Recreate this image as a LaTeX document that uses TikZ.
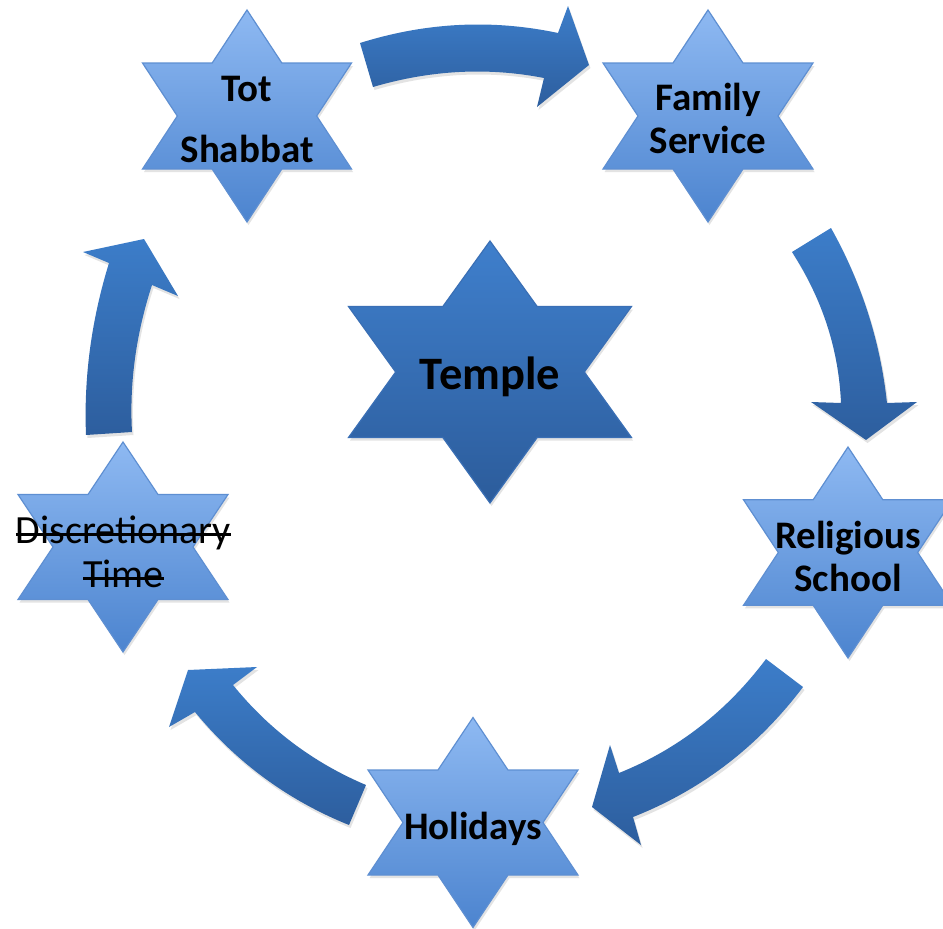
\documentclass[tikz,border=0pt]{standalone}
\usepackage{fontspec}
\setmainfont{Carlito}
\usetikzlibrary{shadows}
\definecolor{starTop}{HTML}{8EB9F2}
\definecolor{starBot}{HTML}{4C84CF}
\definecolor{starEdge}{HTML}{5E8FD2}
\definecolor{bigTop}{HTML}{3F7FCC}
\definecolor{bigBot}{HTML}{2C5C9B}
\definecolor{bigEdge}{HTML}{3A6FB5}
\definecolor{arrTop}{HTML}{3C7DC9}
\definecolor{arrBot}{HTML}{2D5E9E}
\newcommand\strk[1]{\setbox0=\hbox{#1}\rlap{\rule[0.2em]{\wd0}{2.6pt}}\box0}
\newcommand\hexstar[5]{%
 \path[#1] (#2,{#3-#5}) -- ({#2+#4/3},{#3-#5/2}) -- ({#2+#4},{#3-#5/2}) -- ({#2+2*#4/3},#3) -- ({#2+#4},{#3+#5/2}) -- ({#2+#4/3},{#3+#5/2}) -- (#2,{#3+#5}) -- ({#2-#4/3},{#3+#5/2}) -- ({#2-#4},{#3+#5/2}) -- ({#2-2*#4/3},#3) -- ({#2-#4},{#3-#5/2}) -- ({#2-#4/3},{#3-#5/2}) -- cycle;}
\tikzset{
 softshadow/.style={drop shadow={opacity=0.22, shadow xshift=1.5pt, shadow yshift=-3pt}},
 smallstar/.style={softshadow, top color=starTop, bottom color=starBot, draw=starEdge, line width=1.2pt},
 bigstar/.style={softshadow, top color=bigTop, bottom color=bigBot, draw=bigEdge, line width=1.2pt},
 cyclearrow/.style={softshadow, top color=arrTop, bottom color=arrBot, draw=none},
 lbl/.style={font=\bfseries\fontsize{39}{43}\selectfont, align=center, inner sep=0pt, text=black}
}
\begin{document}
\begin{tikzpicture}[x=1pt,y=-1pt]
\useasboundingbox (0,0) rectangle (943,929);
\fill[white] (0,0) rectangle (943,929);
% arrows
\path[cyclearrow] (360,43) .. controls (426,22.3) and (492,19) .. (558,33) -- (568,6) -- (589,65) -- (537,107) -- (544,78) .. controls (487.7,67) and (430.7,70) .. (373,87) -- cycle;
\path[cyclearrow] (792,252) -- (831,228) .. controls (861.7,283) and (880.3,341.3) .. (887,403) -- (917,402) -- (866,440) -- (811,402) -- (841,403) .. controls (838.7,349.3) and (822.3,299) .. (792,252) -- cycle;
\path[cyclearrow] (766,659) -- (803,687) .. controls (757.8,746.9) and (701.1,790.2) .. (633,817) -- (641,845) -- (592,807) -- (610,745) -- (619,773) .. controls (677.7,749.4) and (726.7,711.4) .. (766,659) -- cycle;
\path[cyclearrow] (366,785) -- (349,825) .. controls (287.9,800.3) and (236.6,762.6) .. (195,712) -- (169,727) -- (188,670) -- (257,667) -- (233,685) .. controls (268.7,729.1) and (313,762.5) .. (366,785) -- cycle;
\path[cyclearrow] (86,435) .. controls (83.7,377.7) and (91.3,320.3) .. (109,263) -- (83,252) -- (144,239) -- (178,296) -- (152,285) .. controls (136,334) and (129.3,383) .. (132,432) -- cycle;
% stars
\hexstar{smallstar}{247}{116}{104.5}{106}
\hexstar{smallstar}{708}{116}{105}{106}
\hexstar{bigstar}{490}{372}{141.5}{131}
\hexstar{smallstar}{848}{552.5}{104.5}{105.5}
\hexstar{smallstar}{473}{822.5}{105}{105}
\hexstar{smallstar}{123}{547}{105}{105}
% labels
\node[lbl, font=\bfseries\fontsize{39}{61}\selectfont] (tot) at (247,119.5) {Tot\\Shabbat};
\node[lbl] (family) at (708,118.5) {Family\\Service};
\node[lbl, font=\bfseries\fontsize{46.5}{54}\selectfont] (temple) at (490,377) {Temple};
\node[lbl] (school) at (848,556) {Religious\\School};
\node[lbl] (holidays) at (473,829) {Holidays};
\node[lbl, font=\fontsize{40}{44}\selectfont] (disc) at (123.5,552) {\strk{Discretionary}\\\strk{Time}};
\end{tikzpicture}
\end{document}
